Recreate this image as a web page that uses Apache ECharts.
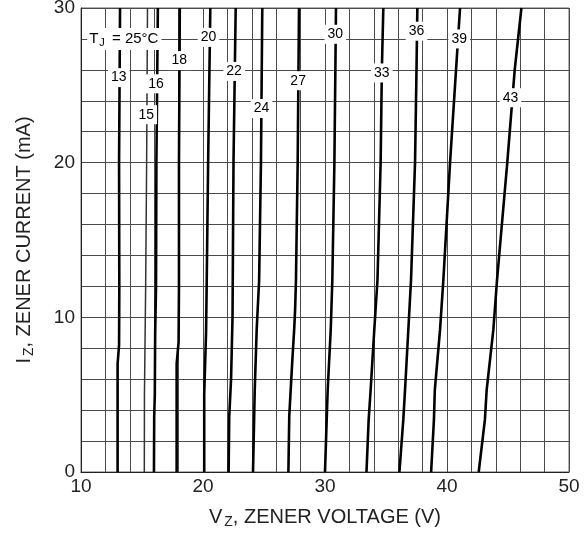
<!DOCTYPE html>
<html>
<head>
<meta charset="utf-8">
<script src="https://cdn.jsdelivr.net/npm/echarts@6/dist/echarts.min.js"></script>
<style>html,body{margin:0;padding:0;background:#fff}#c{width:588px;height:535px}</style>
</head>
<body>
<div id="c"></div>
<script>
// Zener voltage (V) vs current (mA) points for each device
const curveNames = ['13','15','16','18','20','22','24','27','30','33','36','39','43'];
const c13 = [[13.0,0],[13.0,7.0],[13.12,8.2],[13.14,12],[13.12,20],[13.2,30]];
const c15 = [[15.19,0],[15.2,5],[15.3,12],[15.38,20],[15.45,30]];
const c16 = [[15.98,0],[16.0,3.6],[16.05,5],[16.08,9],[16.15,12],[16.18,20],[16.3,30]];
const c18 = [[17.84,0],[17.84,7.0],[18.0,8.4],[18.03,12],[18.03,20],[18.1,30]];
const c20 = [[20.1,0],[20.1,5],[20.25,9],[20.3,12],[20.42,20],[20.6,30]];
const c22 = [[22.1,0],[22.15,3.6],[22.3,6],[22.42,10],[22.5,20],[22.68,30]];
const c24 = [[24.1,0],[24.24,5.3],[24.4,9.2],[24.6,12.4],[24.75,20],[24.86,30]];
const c27 = [[27.0,0],[27.07,3.6],[27.32,7.2],[27.48,9.3],[27.55,10.5],[27.62,12.4],[27.76,20],[27.87,30]];
const c30 = [[30.0,0],[30.14,3.4],[30.22,5.3],[30.47,9.2],[30.6,12.4],[30.77,20],[30.85,26],[30.9,30]];
const c33 = [[33.4,0],[33.58,3.4],[33.74,5.3],[34.04,9.2],[34.3,12.4],[34.56,20],[34.66,26],[34.78,30]];
const c36 = [[36.1,0],[36.42,3.4],[36.56,5.3],[36.83,9.2],[37.05,12.4],[37.38,20],[37.5,26],[37.57,30]];
const c39 = [[38.7,0],[38.93,3.4],[39.0,5.3],[39.43,9.2],[39.7,12.4],[40.25,20],[40.74,26],[41.07,30]];
const c43 = [[42.6,0],[43.11,3.4],[43.25,5.3],[43.8,9.2],[44.1,12.4],[44.94,20],[45.55,26],[46.1,30]];
const curves = [c13,c15,c16,c18,c20,c22,c24,c27,c30,c33,c36,c39,c43];
// label anchors [V, mA, text]
const curveLabels = [
  [13.1,25.5,'13'],[15.35,23.1,'15'],[16.15,25.1,'16'],[18.05,26.6,'18'],
  [20.45,28.1,'20'],[22.55,25.9,'22'],[24.8,23.5,'24'],[27.8,25.3,'27'],
  [30.85,28.3,'30'],[34.65,25.8,'33'],[37.5,28.5,'36'],[41.0,28.0,'39'],[45.2,24.2,'43']
];
const tjLabel = [13.55,28.0];
const xTicks = [10,20,30,40,50];
const yTicks = [0,10,20,30];

const FONT = 'Liberation Sans, Arial, sans-serif';
const chart = echarts.init(document.getElementById('c'));
const series = curves.map((d,i)=>({
  type:'line', name:curveNames[i], data:d, showSymbol:false, smooth:false, z:3,
  lineStyle:{color: curveNames[i]==='15' ? '#333' : '#000', width: curveNames[i]==='15' ? 1.5 : 2.6},
  silent:true
}));
series.push({
  type:'scatter', z:10, symbolSize:1, itemStyle:{color:'rgba(0,0,0,0)', opacity:1}, silent:true,
  data: curveLabels.map(l=>({value:[l[0],l[1]], name:l[2]})),
  label:{show:true, position:'inside', formatter:p=>p.name, color:'#000', opacity:1, textBorderWidth:0,
    fontFamily:FONT, fontSize:14, backgroundColor:'#fff', padding:[3,3,2,3]}
});
series.push({
  type:'scatter', z:10, symbolSize:1, itemStyle:{color:'rgba(0,0,0,0)', opacity:1}, silent:true,
  data:[{value:tjLabel, name:'tj'}],
  label:{show:true, position:'inside', opacity:1, formatter:'{t|T}{s|J}{t| = 25°C}', backgroundColor:'#fff', padding:[1,3,1,2],
    rich:{t:{fontSize:15, color:'#000', fontFamily:FONT, lineHeight:20, verticalAlign:'middle'},
          s:{fontSize:11, color:'#000', fontFamily:FONT, lineHeight:20, verticalAlign:'bottom', padding:[10,3,0,1]}}}
});

chart.setOption({
  animation:false,
  backgroundColor:'#fff',
  grid:{left:81, right:19, top:8, bottom:63, show:true, borderColor:'#666', borderWidth:1, outerBoundsMode:'none', containLabel:false},
  xAxis:{type:'value', min:10, max:50, interval:2,
    axisLine:{show:true, onZero:false, lineStyle:{color:'#222', width:1}},
    axisTick:{show:false},
    splitLine:{show:true, lineStyle:{color:'#4a4a4a', width:1}},
    axisLabel:{fontSize:19, color:'#222', fontFamily:FONT, margin:5,
      formatter:v=> xTicks.includes(v) ? String(v) : ''},
    name:'{a|V}{b|Z}{a|, ZENER VOLTAGE (V)}', nameLocation:'middle', nameGap:33,
    nameTextStyle:{rich:{a:{fontSize:20, color:'#222', fontFamily:FONT, lineHeight:24, verticalAlign:'middle'},
      b:{fontSize:14, color:'#222', fontFamily:FONT, lineHeight:24, verticalAlign:'bottom', padding:[10,0,0,2]}}}
  },
  yAxis:{type:'value', min:0, max:30, interval:2,
    axisLine:{show:true, lineStyle:{color:'#222', width:1}},
    axisTick:{show:false},
    splitLine:{show:true, lineStyle:{color:'#4a4a4a', width:1}},
    axisLabel:{fontSize:19, color:'#222', fontFamily:FONT, margin:6,
      formatter:v=> yTicks.includes(v) ? String(v) : ''},
    name:'{a|I}{b|Z}{a|, ZENER CURRENT (mA)}', nameLocation:'middle', nameGap:45, nameRotate:90,
    nameTextStyle:{rich:{a:{fontSize:20, color:'#222', fontFamily:FONT, lineHeight:24, verticalAlign:'middle'},
      b:{fontSize:14, color:'#222', fontFamily:FONT, lineHeight:24, verticalAlign:'bottom', padding:[10,0,0,2]}}}
  },
  series:series
});
</script>
</body>
</html>
